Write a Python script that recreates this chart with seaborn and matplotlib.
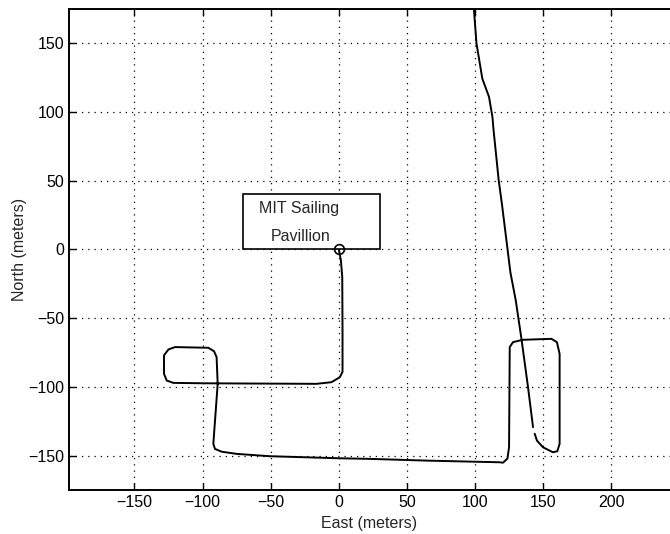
import matplotlib
matplotlib.use("Agg")
import matplotlib.pyplot as plt
import seaborn as sns
from matplotlib.patches import Rectangle

# boat track, first part: pavilion -> loops -> east box (metres)
track_east = [0, 1.5, 2.5, 2.7, 2.7, 0.7, -5.4, -16.4, -60, -100, -121.5, -126.3, -128.3,
              -128.3, -125, -120.2, -95.8, -91.6, -89.7, -88.9, -92.1, -90.9, -86, -75,
              -50.6, 0.7, 21.5, 65, 118, 120.5, 123.7, 124.9, 125.4, 127.8, 135, 156,
              160, 162, 162, 160.3, 157, 149.8, 145.4, 143.7]
track_north = [0, -8, -20, -59, -89, -92.9, -96.5, -97.7, -97.5, -97.3, -97, -95.3, -90.4,
               -77, -72.7, -71, -71.5, -74, -78.3, -97.7, -141.3, -145, -147, -148.6,
               -150.3, -151.8, -152.2, -153.5, -154.7, -155, -152, -143.8, -71, -67.4,
               -65.7, -65, -67.4, -75.9, -141.3, -146.7, -147.4, -143.8, -139, -134]

# second part: heading north out of the box
north_east = [142.5, 138.8, 134, 129.8, 125.9, 119.7, 117.3, 113.5, 112.7, 110.2, 105.3,
              101, 99]
north_north = [-129.2, -100, -65, -37, -16.8, 32.7, 50.2, 87, 96.2, 110.8, 124, 149.6, 176]

label_lines = ["MIT Sailing", "Pavillion"]
label_box = (-70, 0, 100, 40)  # x, y, width, height

sns.set_style("ticks")
plt.rcParams["font.family"] = ["Liberation Sans", "DejaVu Sans"]
plt.rcParams["font.size"] = 11.5

fig = plt.figure(figsize=(6.70, 5.34), dpi=100)
ax = fig.add_axes([0.103, 0.082, 0.897, 0.902])

sns.lineplot(x=track_east, y=track_north, sort=False, estimator=None, color="black",
             linewidth=1.4, ax=ax)
sns.lineplot(x=north_east, y=north_north, sort=False, estimator=None, color="black",
             linewidth=1.4, ax=ax)

bx, by, bw, bh = label_box
ax.add_patch(Rectangle((bx, by), bw, bh, facecolor="white", edgecolor="black",
                       linewidth=1.2, zorder=3))
ax.text(bx + bw * 0.41, by + bh * 0.74, label_lines[0], ha="center", va="center", zorder=4)
ax.text(bx + bw * 0.42, by + bh * 0.24, label_lines[1], ha="center", va="center", zorder=4)
ax.plot([0], [0], marker="o", markersize=7, markerfacecolor="none",
        markeredgecolor="black", markeredgewidth=1.2, zorder=5)

ax.set_xlim(-198, 243)
ax.set_ylim(-175, 175)
ax.set_xticks(range(-150, 201, 50))
ax.set_yticks(range(-150, 151, 50))
ax.grid(True, color="black", linestyle=(0, (1, 4)), linewidth=0.9)
ax.tick_params(direction="in", length=5, width=1, top=True, colors="black")
for s in ax.spines.values():
    s.set_linewidth(1.4)
    s.set_color("black")
ax.spines["right"].set_visible(False)
ax.set_xlabel("East (meters)", labelpad=4)
ax.set_ylabel("North (meters)", labelpad=1)

fig.savefig("out.png", dpi=100)
